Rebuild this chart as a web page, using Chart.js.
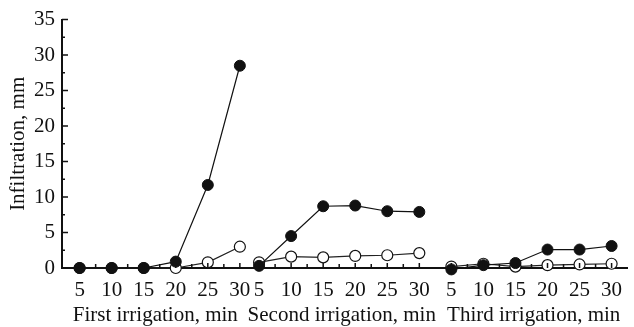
<!DOCTYPE html>
<html>
<head>
<meta charset="utf-8">
<script src="https://cdn.jsdelivr.net/npm/chart.js@4"></script>
<style>
html, body { margin: 0; padding: 0; background: #fff; }
#wrap { width: 634px; height: 327px; }
</style>
</head>
<body>
<div id="wrap"><canvas id="myChart"></canvas></div>
<script>
var minutes = [5, 10, 15, 20, 25, 30];
var irrigations = ['First irrigation, min', 'Second irrigation, min', 'Third irrigation, min'];
var groupStart = [0, 28, 58];       // shift of each irrigation along the x axis
var titleAt = [16.8, 45.9, 75.85];  // where each irrigation caption is centred

var filledFirst = [0, 0, 0, 0.9, 11.7, 28.5];
var filledSecond = [0.3, 4.5, 8.7, 8.8, 8.0, 7.9];
var filledThird = [-0.2, 0.4, 0.7, 2.6, 2.6, 3.1];

var openFirst = [0, 0, 0, 0, 0.8, 3.0];
var openSecond = [0.8, 1.6, 1.5, 1.7, 1.8, 2.1];
var openThird = [0.2, 0.6, 0.2, 0.4, 0.5, 0.6];

var serif = '"Liberation Serif", "Times New Roman", serif';

// one line per irrigation, broken by a null point in between
function buildSeries(groups) {
    var pts = [];
    groups.forEach(function (vals, g) {
        if (g > 0) pts.push({x: groupStart[g] + 3, y: null});
        vals.forEach(function (v, i) {
            pts.push({x: minutes[i] + groupStart[g], y: v});
        });
    });
    return pts;
}

function groupOf(value) {
    for (var g = 0; g < groupStart.length; g++) {
        var m = value - groupStart[g];
        if (m >= 5 && m <= 30) return g;
    }
    return -1;
}

// ticks pointing inwards, drawn from the scales' own ticks
var innerTicks = {
    id: 'innerTicks',
    afterDatasetsDraw: function (chart) {
        var c = chart.ctx, xs = chart.scales.x, ys = chart.scales.y;
        c.save();
        c.strokeStyle = '#111';
        c.lineWidth = 1.5;
        c.beginPath();
        ys.ticks.forEach(function (t) {
            var py = ys.getPixelForValue(t.value);
            var len = t.value % 5 === 0 ? 6 : 3;
            c.moveTo(xs.left, py);
            c.lineTo(xs.left + len, py);
        });
        xs.ticks.forEach(function (t) {
            if (titleAt.indexOf(t.value) >= 0) return;
            var px = xs.getPixelForValue(t.value);
            var m = t.value - groupStart[groupOf(t.value)];
            var len = m % 5 === 0 ? 5 : 4;
            c.moveTo(px, ys.bottom);
            c.lineTo(px, ys.bottom - len);
        });
        c.stroke();
        c.restore();
    }
};

var ctx = document.getElementById('myChart').getContext('2d');

var chart = new Chart(ctx, {
    type: 'line',
    data: {
        datasets: [{
            label: 'filled',
            data: buildSeries([filledFirst, filledSecond, filledThird]),
            borderColor: '#111',
            borderWidth: 1.2,
            backgroundColor: '#111',
            pointBackgroundColor: '#111',
            pointBorderColor: '#111',
            pointBorderWidth: 1,
            pointRadius: 5.5,
            spanGaps: false,
            clip: false
        }, {
            label: 'open',
            data: buildSeries([openFirst, openSecond, openThird]),
            borderColor: '#222',
            borderWidth: 1.2,
            backgroundColor: '#fff',
            pointBackgroundColor: '#fff',
            pointBorderColor: '#111',
            pointBorderWidth: 1.2,
            pointRadius: 5.5,
            spanGaps: false,
            clip: false
        }]
    },
    options: {
        responsive: true,
        maintainAspectRatio: false,
        animation: false,
        layout: { padding: { top: 19, right: 4, left: 0, bottom: 0 } },
        plugins: {
            legend: { display: false },
            tooltip: { enabled: false }
        },
        scales: {
            x: {
                type: 'linear',
                min: 2.25,
                max: 90.45,
                grid: { display: false, drawTicks: false },
                border: { display: true, color: '#111', width: 2 },
                afterBuildTicks: function (scale) {
                    var t = [];
                    groupStart.forEach(function (off, g) {
                        for (var m = 5; m <= 30; m += 2.5) t.push({value: m + off});
                        t.push({value: titleAt[g]});
                    });
                    t.sort(function (a, b) { return a.value - b.value; });
                    scale.ticks = t;
                },
                afterFit: function (scale) { scale.height = 59; },
                ticks: {
                    autoSkip: false,
                    maxRotation: 0,
                    padding: 10,
                    color: '#111',
                    font: { family: serif, size: 21, lineHeight: 1.19 },
                    callback: function (value) {
                        var k = titleAt.indexOf(value);
                        if (k >= 0) return ['', irrigations[k]];
                        var m = value - groupStart[groupOf(value)];
                        return m % 5 === 0 ? String(m) : '';
                    }
                }
            },
            y: {
                min: 0,
                max: 35,
                grid: { display: false, drawTicks: false },
                border: { display: true, color: '#111', width: 2 },
                afterFit: function (scale) { scale.width = 62; },
                ticks: {
                    stepSize: 2.5,
                    autoSkip: false,
                    padding: 7,
                    color: '#111',
                    font: { family: serif, size: 21 },
                    callback: function (value) {
                        return value % 5 === 0 ? String(value) : '';
                    }
                },
                title: {
                    display: true,
                    text: 'Infiltration, mm',
                    color: '#111',
                    font: { family: serif, size: 21 },
                    padding: { top: 6, bottom: 0 }
                }
            }
        }
    },
    plugins: [innerTicks]
});
</script>
</body>
</html>
